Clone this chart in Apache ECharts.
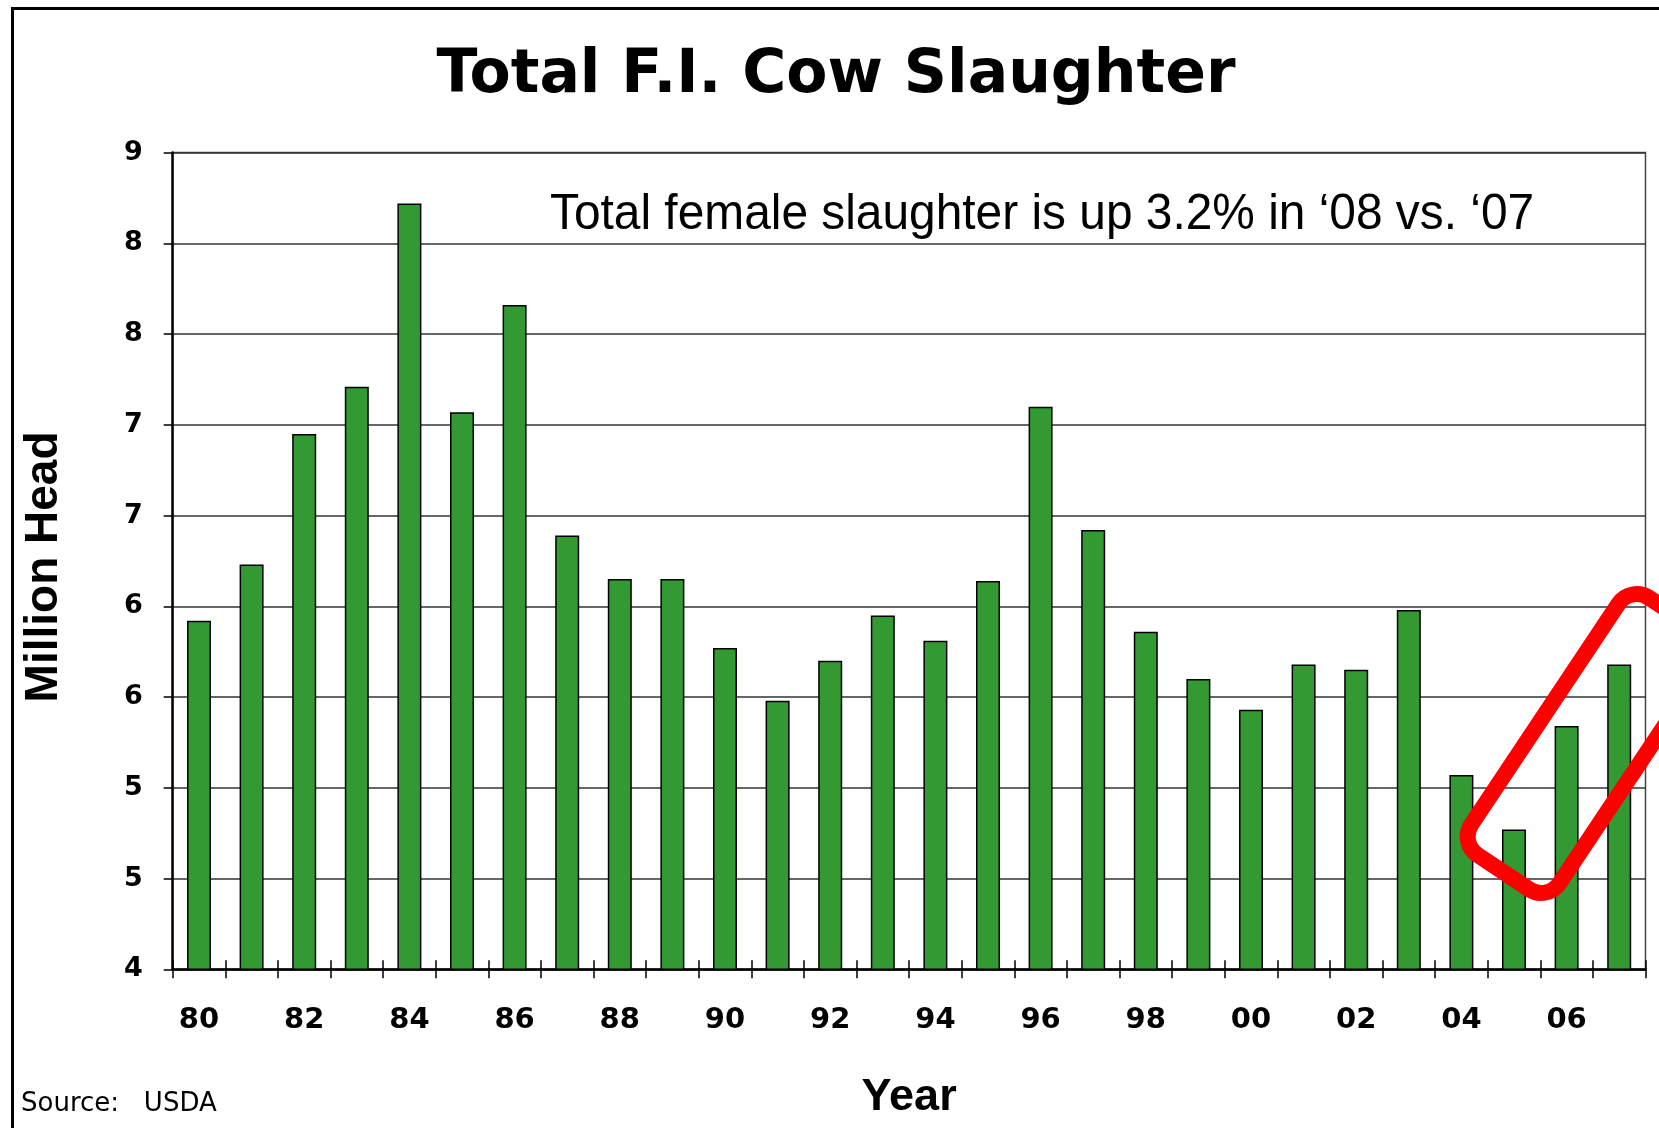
<!DOCTYPE html>
<html>
<head>
<meta charset="utf-8">
<script src="https://cdn.jsdelivr.net/npm/echarts@6/dist/echarts.min.js"></script>
<style>
html,body{margin:0;padding:0;background:#fff;}
#chart{width:1659px;height:1128px;}
</style>
</head>
<body>
<div id="chart"></div>
<script>
const years = ['80','81','82','83','84','85','86','87','88','89','90','91','92','93','94','95','96','97','98','99','00','01','02','03','04','05','06','07'];
const cowSlaughter = [5.92,6.23,6.95,7.21,8.22,7.07,7.66,6.39,6.15,6.15,5.77,5.48,5.70,5.95,5.81,6.14,7.10,6.42,5.86,5.60,5.43,5.68,5.65,5.98,5.07,4.77,5.34,5.68];
const yTickLabels = ['4','5','5','6','6','7','7','8','8','9'];
const titleText = 'Total F.I. Cow Slaughter';
const noteText = 'Total female slaughter is up 3.2% in \u201808 vs. \u201807';
const sourceText = 'Source:   USDA';

const chart = echarts.init(document.getElementById('chart'), null, {renderer:'canvas'});
const option = {
  animation: false,
  backgroundColor: '#ffffff',
  title: {
    text: titleText,
    left: 831, top: 41, textAlign: 'center',
    textStyle: {fontFamily: 'DejaVu Sans', fontWeight: 'bold', fontSize: 60, color: '#000'}
  },
  grid: {
    left: 172.7, right: 13.5, top: 152.6, bottom: 158.7,
    show: true, borderColor: '#444', borderWidth: 1.5, backgroundColor: 'transparent'
  },
  xAxis: [{
    type: 'category', data: years, boundaryGap: true,
    axisLine: {show: true, lineStyle: {color: '#000', width: 2.5}},
    axisTick: {show: true, interval: 0, length: 9, lineStyle: {color: '#000', width: 1.5}},
    axisLabel: {interval: 1, margin: 37, fontFamily: 'DejaVu Sans', fontWeight: 'bold', fontSize: 29, color: '#000'},
    splitLine: {show: false},
    name: 'Year', nameLocation: 'middle', nameGap: 106,
    nameTextStyle: {fontFamily: 'Liberation Sans', fontWeight: 'bold', fontSize: 45, color: '#000', verticalAlign: 'top'}
  }, {
    type: 'category', data: years, boundaryGap: true, position: 'bottom',
    axisLine: {show: false},
    axisTick: {show: true, inside: true, interval: 0, length: 9, lineStyle: {color: '#000', width: 1.5}},
    axisLabel: {show: false}, splitLine: {show: false}
  }],
  yAxis: {
    type: 'value', min: 4, max: 8.5, interval: 0.5,
    axisLine: {show: true, lineStyle: {color: '#000', width: 2.5}},
    axisTick: {show: true, length: 9, lineStyle: {color: '#000', width: 1.5}},
    axisLabel: {
      margin: 30, fontFamily: 'DejaVu Sans', fontWeight: 'bold', fontSize: 27, color: '#000',
      formatter: function (v) { return yTickLabels[Math.round((v - 4) / 0.5)]; }
    },
    splitLine: {show: true, lineStyle: {color: '#333', width: 1.5}},
    name: 'Million Head', nameLocation: 'middle', nameGap: 105, nameRotate: 90,
    nameTextStyle: {fontFamily: 'Liberation Sans', fontWeight: 'bold', fontSize: 46, color: '#000', padding: [0, 12, 0, 0]}
  },
  series: [{
    type: 'bar', xAxisIndex: 0, data: cowSlaughter, barWidth: 24,
    itemStyle: {color: '#339933', borderColor: '#000', borderWidth: 1.5},
    z: 3
  }],
  graphic: [
    {type: 'rect', left: 10, top: 6, shape: {width: 1700, height: 1200},
     style: {fill: 'none', stroke: '#000', lineWidth: 3}, silent: true, z: 1},
    {type: 'text', x: 550, y: 215, scaleX: 0.957,
     style: {text: noteText, fontFamily: 'Liberation Sans', fontSize: 50, fill: '#000', verticalAlign: 'middle'}, z: 100},
    {type: 'text', x: 21, y: 1104,
     style: {text: sourceText, fontFamily: 'DejaVu Sans', fontSize: 26, fill: '#000', verticalAlign: 'middle'}, z: 100},
    {type: 'rect', x: 1589, y: 743.5, rotation: 56.3 * Math.PI / 180,
     shape: {x: -154.5, y: -53, width: 309, height: 106, r: 22},
     style: {fill: 'none', stroke: '#ff0000', lineWidth: 16}, z: 100}
  ]
};
chart.setOption(option);
</script>
</body>
</html>
